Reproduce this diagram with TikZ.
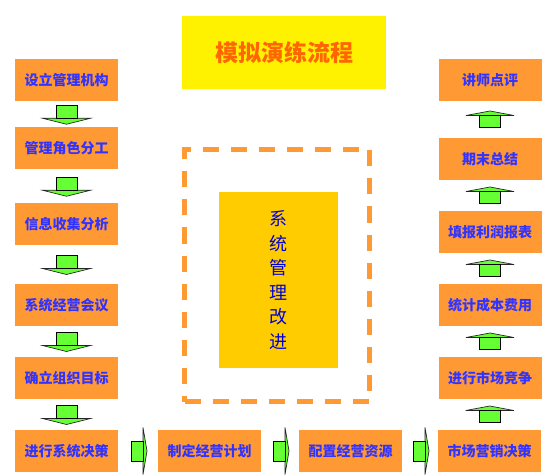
\documentclass[tikz,border=0pt]{standalone}
\usepackage{fontspec}
\newfontfamily\cjk{Noto Sans CJK SC}
\usetikzlibrary{arrows.meta}

\definecolor{boxorange}{HTML}{FF9933}
\definecolor{textblue}{HTML}{3333FF}
\definecolor{titlered}{HTML}{FF6600}
\definecolor{arrowgreen}{HTML}{66FF33}
\definecolor{innergold}{HTML}{FFCC00}

\begin{document}
\begin{tikzpicture}[
    x=1pt, y=-1pt,
    every node/.style={font=\cjk},
    box/.style={fill=boxorange, minimum width=103pt, minimum height=42pt,
        inner sep=0pt, text=textblue, font=\cjk\bfseries\fontsize{14}{14}\selectfont},
    shaft/.style={fill=arrowgreen, draw=black, line width=0.8pt},
    head/.style={fill=arrowgreen, draw=black!85, line width=0.7pt, line join=miter}
]

\useasboundingbox (0,0) rectangle (560,476);

\def\L{66.5}
\def\Rx{490}
\def\B{451}

% Title
\node[fill=yellow, minimum width=204pt, minimum height=73pt, text=titlered,
      font=\cjk\bfseries\fontsize{23}{23}\selectfont] (title) at (284,52.5) {模拟演练流程};

% Centre frame
\node[draw=boxorange, line width=5pt, dash pattern=on 16pt off 12pt,
      minimum width=185pt, minimum height=252pt] (frame) at (277,275.5) {};
\node[fill=innergold, minimum width=119pt, minimum height=176pt, align=center,
      text=blue!85!black, font=\cjk\fontsize{18}{24.5}\selectfont] (core) at (278.5,280)
      {系\\统\\管\\理\\改\\进};

% Left column
\node[box] (l1) at (\L,80)    {设立管理机构};
\node[box] (l2) at (\L,148.5) {管理角色分工};
\node[box] (l3) at (\L,224)   {信息收集分析};
\node[box] (l4) at (\L,305)   {系统经营会议};
\node[box] (l5) at (\L,378)   {确立组织目标};
\node[box] (l6) at (\L,\B)    {进行系统决策};

% Bottom row
\node[box] (b2) at (209.5,\B) {制定经营计划};
\node[box] (b3) at (350.5,\B) {配置经营资源};
\node[box] (b4) at (489.5,\B) {市场营销决策};

% Right column
\node[box] (r5) at (\Rx,378)  {进行市场竞争};
\node[box] (r4) at (\Rx,305)  {统计成本费用};
\node[box] (r3) at (\Rx,232)  {填报利润报表};
\node[box] (r2) at (\Rx,159)  {期末总结};
\node[box] (r1) at (\Rx,80)   {讲师点评};

% Down arrows
\foreach \a/\b in {l1/l2,l2/l3,l3/l4,l4/l5,l5/l6}{
    \path (\a.south) -- (\b.north) coordinate[pos=0.5] (m);
    \filldraw[head] (m) ++(-24,4) -- ++(48,0) -- ++(-24,6) -- cycle;
    \filldraw[shaft] (m) ++(-10.5,-9) rectangle ++(21,13);
}

% Right arrows
\foreach \a/\b in {l6/b2,b2/b3,b3/b4}{
    \path (\a.east) -- (\b.west) coordinate[pos=0.5] (m);
    \filldraw[head] (m) ++(5,-23.5) -- ++(0,47) -- ++(4,-23.5) -- cycle;
    \filldraw[shaft] (m) ++(-7,-10) rectangle ++(12,20);
}

% Up arrows
\foreach \a/\b in {b4/r5,r5/r4,r4/r3,r3/r2,r2/r1}{
    \path (\a.north) -- (\b.south) coordinate[pos=0.5] (m);
    \filldraw[head] (m) ++(-24,-4) -- ++(48,0) -- ++(-24,-4.5) -- cycle;
    \filldraw[shaft] (m) ++(-10.5,-4) rectangle ++(21,12);
}

\end{tikzpicture}
\end{document}
